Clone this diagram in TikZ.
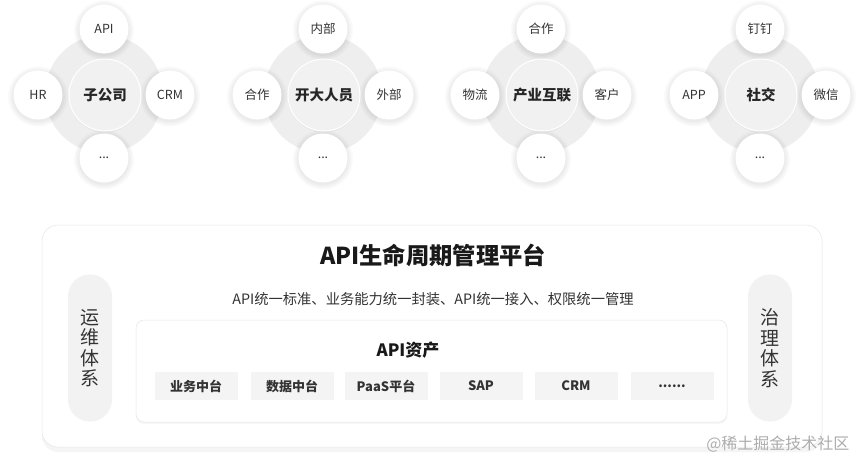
\documentclass[tikz,border=0pt]{standalone}
\usepackage{fontspec}
\setmainfont{Noto Sans CJK SC}
\usetikzlibrary{shadows}
\definecolor{txt}{HTML}{333333}
\definecolor{halo}{HTML}{EEEEEE}
\definecolor{hub}{HTML}{F1F1F1}
\definecolor{itembg}{HTML}{F4F4F4}
\definecolor{pillbg}{HTML}{F2F2F2}
\definecolor{edge}{HTML}{E6E6E6}
\newcommand\mythreedots{...}
\newcommand\mysixdots{......}
\tikzset{
  softglow/.style={fill=black, opacity=0.018},
  sat/.style={circle, fill=white, minimum size=49pt, inner sep=0pt, text=txt, font=\fontsize{12.5}{14}\selectfont},
  hubnode/.style={circle, fill=hub, draw=white, line width=1pt, minimum size=72pt, inner sep=0pt, text=black!85,
    font=\fontsize{14.5}{16}\selectfont\bfseries,
    drop shadow={opacity=0.08, shadow xshift=0pt, shadow yshift=-1.5pt}},
  halonode/.style={circle, fill=halo, minimum size=118pt, inner sep=0pt},
  panel/.style={rounded corners=16pt, fill=white, draw=edge, line width=0.5pt,
    drop shadow={opacity=0.08, shadow xshift=0pt, shadow yshift=-5pt}},
  innerpanel/.style={rounded corners=8pt, fill=white, draw=edge, line width=0.5pt,
    drop shadow={opacity=0.06, shadow xshift=0pt, shadow yshift=-2pt}},
  item/.style={fill=itembg, minimum width=83pt, minimum height=28pt, inner sep=0pt, text=txt,
    font=\fontsize{13}{15}\selectfont\bfseries},
  pill/.style={fill=pillbg, rounded corners=22pt, minimum width=44pt, minimum height=147pt, inner sep=0pt,
    text=txt, font=\fontsize{19}{20.5}\selectfont, align=center},
}
\begin{document}
\begin{tikzpicture}[x=1pt,y=-1pt]
\useasboundingbox (0,0) rectangle (865,472);
\fill[white] (0,0) rectangle (865,472);
% clusters
\foreach \cx/\c/\t/\l/\r [count=\i] in {104/子公司/API/HR/CRM, 323/开大人员/内部/合作/外部, 541/产业互联/合作/物流/客户, 760/社交/钉钉/APP/微信}{
  \node[halonode] (h\i) at (\cx,94) {};
  \foreach \px/\py in {0/29, -66/95, 66/95, 0/158}{
    \foreach \rr in {25.5,27,28.5,30}{
      \fill[softglow] (\cx+\px,\py+1.5) circle[radius=\rr];
    }
  }
  \node[sat] (t\i) at (\cx,29) {\t};
  \node[sat] (l\i) at (\cx-66,95) {\l};
  \node[sat] (r\i) at (\cx+66,95) {\r};
  \node[sat] (b\i) at (\cx,158) {\mythreedots};
  \node[hubnode] (c\i) at (\cx+1,95) {\c};
}
% main panel
\node[panel, minimum width=780pt, minimum height=222pt, inner sep=0pt] (main) at (432,336) {};
\node[text=black!90, font=\fontsize{23.3}{26}\selectfont\bfseries] (title) at (433,255) {API生命周期管理平台};
\node[text=txt, font=\fontsize{14.3}{16}\selectfont] (sub) at (433,299) {API统一标准、业务能力统一封装、API统一接入、权限统一管理};
\node[innerpanel, minimum width=591pt, minimum height=102pt, inner sep=0pt] (inner) at (431.5,371) {};
\node[text=black!90, font=\fontsize{17}{19}\selectfont\bfseries] (assets) at (408,350) {API资产};
\foreach \x/\lab [count=\j] in {196/业务中台, 292/数据中台, 386/PaaS平台, 481/SAP, 576/CRM, 672/\mysixdots}{
  \node[item] (it\j) at (\x,386) {\lab};
}
\node[pill] (ops) at (90,348) {运\\维\\体\\系};
\node[pill] (gov) at (770,348) {治\\理\\体\\系};
\node[text=black!32, font=\fontsize{16}{18}\selectfont, anchor=east] (wm) at (853,444) {@稀土掘金技术社区};
\end{tikzpicture}
\end{document}
